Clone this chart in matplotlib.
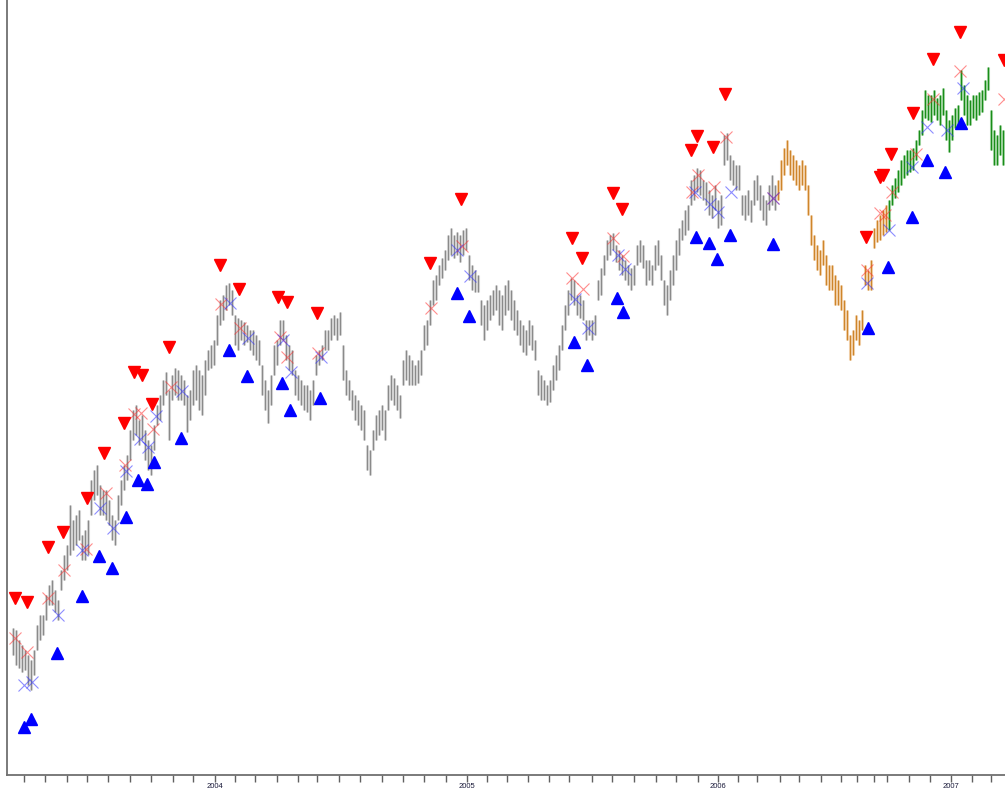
import numpy as np
import matplotlib
matplotlib.use('Agg')
import matplotlib.pyplot as plt

# bars: one sample every 3 trading days, starting at day 13
first_day = 13
day_step = 3
bar_low = [145, 135, 132, 128, 130, 115, 110, 125, 150, 160,
           165, 180, 195, 195, 188, 180, 210, 220, 230, 245,
           250, 255, 260, 240, 240, 245, 285, 300, 305, 285,
           285, 280, 275, 260, 255, 280, 295, 310, 320, 340,
           360, 365, 355, 360, 340, 330, 325, 350, 375, 380,
           395, 405, 360, 400, 405, 400, 400, 395, 368, 380,
           395, 400, 390, 385, 405, 430, 432, 435, 455, 475,
           480, 490, 495, 485, 455, 450, 460, 455, 458, 450,
           445, 440, 435, 405, 390, 377, 395, 425, 435, 455,
           460, 440, 430, 425, 405, 400, 395, 390, 388, 380,
           395, 425, 435, 440, 450, 450, 460, 465, 460, 465,
           420, 405, 400, 390, 380, 375, 370, 360, 330, 325,
           350, 360, 365, 370, 360, 390, 400, 395, 390, 382,
           415, 420, 415, 415, 415, 417, 425, 450, 455, 475,
           495, 500, 515, 522, 530, 540, 545, 542, 545, 538,
           545, 550, 520, 510, 508, 508, 475, 460, 470, 480,
           485, 490, 475, 470, 485, 490, 480, 470, 465, 455,
           448, 445, 455, 450, 440, 405, 400, 400, 395, 398,
           410, 420, 430, 450, 470, 485, 500, 495, 485, 482,
           480, 460, 465, 460, 465, 500, 505, 525, 540, 545,
           550, 538, 530, 525, 520, 515, 510, 515, 535, 538,
           532, 515, 520, 515, 530, 535, 520, 495, 485, 500,
           515, 530, 545, 560, 565, 570, 595, 600, 608, 605,
           600, 595, 585, 582, 590, 572, 575, 635, 640, 620,
           615, 610, 610, 585, 580, 585, 578, 595, 600, 590,
           580, 575, 590, 595, 590, 600, 610, 625, 635, 625,
           620, 615, 610, 615, 610, 585, 555, 540, 530, 525,
           535, 515, 510, 510, 495, 495, 490, 470, 460, 440,
           445, 460, 455, 470, 515, 510, 510, 552, 558, 560,
           565, 568, 570, 595, 602, 608, 615, 622, 625, 628,
           630, 640, 655, 665, 682, 680, 678, 685, 680, 675,
           685, 660, 648, 660, 672, 675, 700, 685, 675, 675,
           682, 680, 685, 688, 700, 710, 650, 635, 635, 645,
           635]
bar_high = [172, 170, 160, 155, 150, 145, 140, 150, 175, 185,
            185, 205, 215, 220, 210, 200, 230, 245, 255, 295,
            280, 285, 290, 265, 270, 280, 320, 330, 335, 315,
            310, 310, 300, 285, 280, 305, 320, 335, 345, 370,
            390, 395, 380, 385, 370, 360, 355, 375, 395, 405,
            420, 428, 410, 425, 432, 430, 425, 420, 405, 410,
            430, 435, 430, 425, 440, 450, 455, 460, 485, 500,
            505, 515, 517, 510, 485, 482, 480, 478, 475, 470,
            470, 465, 460, 435, 420, 410, 425, 455, 460, 480,
            480, 465, 455, 450, 430, 425, 420, 415, 415, 410,
            420, 445, 450, 455, 470, 470, 482, 485, 482, 488,
            455, 430, 420, 410, 405, 400, 395, 390, 355, 350,
            370, 385, 390, 395, 390, 415, 425, 422, 415, 405,
            440, 450, 445, 440, 435, 440, 450, 475, 480, 500,
            520, 525, 535, 542, 550, 565, 572, 565, 568, 565,
            570, 572, 545, 535, 530, 525, 500, 495, 500, 505,
            510, 515, 510, 505, 515, 520, 510, 500, 490, 480,
            475, 470, 480, 475, 460, 430, 425, 420, 415, 420,
            435, 445, 455, 475, 495, 510, 522, 520, 505, 505,
            500, 480, 480, 480, 485, 520, 532, 545, 560, 565,
            567, 555, 550, 545, 540, 535, 532, 535, 555, 560,
            555, 540, 540, 535, 555, 560, 545, 520, 515, 530,
            545, 560, 572, 580, 590, 595, 620, 625, 632, 630,
            620, 618, 610, 605, 615, 600, 605, 665, 667, 645,
            640, 635, 635, 605, 605, 610, 600, 620, 625, 615,
            605, 600, 615, 625, 615, 620, 640, 652, 660, 650,
            645, 640, 635, 640, 635, 615, 585, 565, 555, 550,
            560, 545, 535, 535, 525, 520, 515, 500, 490, 465,
            470, 485, 480, 490, 535, 530, 540, 572, 580, 585,
            590, 595, 600, 615, 622, 630, 640, 645, 650, 650,
            652, 660, 670, 690, 710, 705, 705, 710, 702, 705,
            712, 690, 680, 685, 692, 695, 730, 715, 705, 700,
            705, 705, 708, 710, 720, 733, 690, 670, 665, 675,
            670]
orange_start = 777
green_start = 888

# signals
sell_day = [15, 27, 48, 63, 87, 104, 124, 134, 142, 152, 169, 220, 239, 278, 287, 317,
            430, 461, 572, 582, 613, 622, 691, 697, 713, 725, 866, 880, 883, 891, 913,
            933, 960, 1004]
sell_val = [202, 198, 253, 268, 302, 347, 377, 428, 425, 396, 453, 535, 511, 503, 498, 487,
            537, 601, 562, 542, 607, 591, 650, 664, 653, 706, 563, 623, 625, 646, 687,
            741, 768, 740]
buy_day = [24, 31, 57, 82, 99, 112, 126, 138, 147, 154, 181, 229, 247, 282, 290, 320,
           457, 469, 574, 587, 617, 623, 696, 709, 717, 730, 773, 868, 888, 912, 927,
           945, 961]
buy_val = [73, 81, 147, 204, 244, 232, 283, 320, 316, 338, 362, 450, 424, 417, 390, 402,
           507, 484, 458, 435, 502, 488, 563, 557, 541, 565, 556, 472, 533, 583, 640,
           628, 677]
peak_day = [15, 27, 48, 64, 86, 106, 125, 134, 141, 153, 171, 221, 240, 280, 287, 318,
            431, 462, 572, 583, 613, 623, 692, 698, 714, 726, 773, 867, 880, 885, 892,
            916, 933, 960, 1004]
peak_val = [162, 148, 202, 230, 251, 307, 335, 386, 387, 371, 413, 496, 472, 463, 443, 447,
            492, 554, 522, 511, 562, 544, 608, 625, 613, 663, 602, 530, 587, 585, 608,
            646, 701, 729, 701]
trough_day = [24, 32, 58, 82, 100, 113, 126, 140, 148, 156, 182, 230, 248, 283, 291, 321,
              457, 470, 575, 588, 618, 625, 695, 710, 718, 731, 773, 867, 889, 912, 927,
              947, 963]
trough_val = [115, 118, 185, 250, 292, 272, 329, 361, 353, 384, 409, 497, 462, 460, 428, 443,
              550, 524, 501, 472, 545, 531, 608, 596, 588, 608, 602, 517, 570, 633, 673,
              670, 712]

month_ticks = [24, 45, 67, 87, 108, 130, 151, 173, 193, 215, 235, 255, 277, 298, 317, 339,
               360, 382, 403, 424, 446, 467, 487, 507, 528, 549, 569, 592, 612, 634, 656,
               676, 698, 718, 738, 757, 780, 799, 821, 841, 857, 874, 887, 909, 930, 951,
               972, 991]
year_ticks = {215: '2004', 467: '2005', 718: '2006', 951: '2007'}

days = first_day + day_step * np.arange(len(bar_low))
low = np.array(bar_low)
high = np.array(bar_high)

fig = plt.figure(figsize=(10.05, 7.92), dpi=100)
ax = fig.add_axes([7 / 1005, 17 / 792, 998 / 1005, 775 / 792])

segments = [
    (days < orange_start, '#7c7c7c', '#d2d2d2'),
    ((days >= orange_start) & (days < green_start), '#c87814', '#efcda5'),
    (days >= green_start, '#008000', '#9ad09a'),
]
for mask, dark, light in segments:
    ax.vlines(days[mask], low[mask], high[mask], color=light, lw=2.2, zorder=1)
    ax.vlines(days[mask], low[mask], high[mask], color=dark, lw=0.6, zorder=2)

ax.plot(peak_day, peak_val, 'x', color='#ff3030', ms=8, mew=0.8, alpha=0.55, zorder=3)
ax.plot(trough_day, trough_val, 'x', color='#3030ff', ms=8, mew=0.8, alpha=0.55, zorder=3)
ax.plot(sell_day, sell_val, 'v', color='red', ms=8, mec='red', zorder=4)
ax.plot(buy_day, buy_val, '^', color='blue', ms=8, mec='blue', zorder=4)

ax.set_xlim(7, 1005)
ax.set_ylim(25, 800)
ax.set_yticks([])
ax.set_xticks(month_ticks)
ax.set_xticklabels([year_ticks.get(t, '') for t in month_ticks],
                   fontsize=5.5, family='Liberation Sans', color='#1a1a3a')
ax.tick_params(axis='x', length=5, width=1, color='#606060', pad=0.5)
for s in ['top', 'right']:
    ax.spines[s].set_visible(False)
for s in ['left', 'bottom']:
    ax.spines[s].set_color('#707070')
    ax.spines[s].set_linewidth(1.3)

fig.savefig('out.png', dpi=100)
